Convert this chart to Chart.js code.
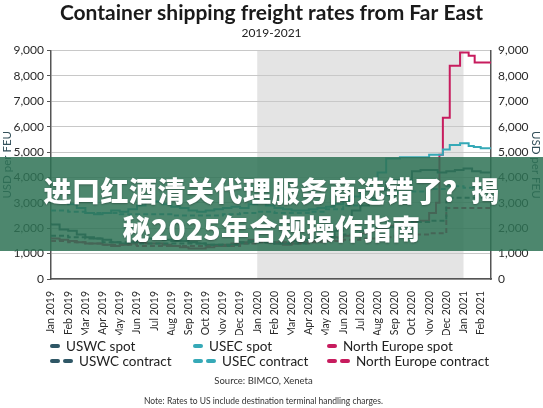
<!DOCTYPE html>
<html>
<head>
<meta charset="utf-8">
<script src="https://cdn.jsdelivr.net/npm/chart.js@4.4.1/dist/chart.umd.min.js"></script>
<style>
  html, body { margin: 0; padding: 0; background: #fff; }
  #wrap { position: relative; width: 543px; height: 408px; overflow: hidden; font-family: Lato, sans-serif; }
  #chart { position: absolute; left: 0; top: 0; }
  .legend { position: absolute; font-size: 13.5px; color: #222; white-space: nowrap; }
  .legend .item { position: absolute; display: flex; align-items: center; }
  .legend .sw { display: inline-block; width: 10px; height: 4px; border-radius: 2px; margin-right: 3px; }
  .src { position: absolute; left: 0; width: 527px; text-align: center; color: #333; }
  #banner { position: absolute; left: 0; top: 157px; width: 543px; height: 94px;
    background: rgba(46,114,85,0.85); color: #fff; text-align: center;
    font-family: "Noto Sans CJK SC", sans-serif; font-weight: 900; font-size: 28px;
    line-height: 38px; padding-top: 14px; box-sizing: border-box; letter-spacing: 0.5px;
    text-shadow: 0 1px 2px rgba(0,0,0,0.3); }
</style>
</head>
<body>
<div id="wrap">
  <canvas id="chart" width="543" height="408"></canvas>
  <div id="legend" class="legend"></div>
  <div class="src" style="top:375px;font-size:9.5px;">Source: BIMCO, Xeneta</div>
  <div class="src" style="top:396px;font-size:8.5px;">Note: Rates to US include destination terminal handling charges.</div>
  <div id="banner">进口红酒清关代理服务商选错了？揭<br>秘2025年合规操作指南</div>
</div>
<script>
// Month tick labels (x = months since Jan 2019)
const monthLabels = ['Jan 2019', 'Feb 2019', 'Mar 2019', 'Apr 2019', 'May 2019', 'Jun 2019',
    'Jul 2019', 'Aug 2019', 'Sep 2019', 'Oct 2019', 'Nov 2019', 'Dec 2019',
    'Jan 2020', 'Feb 2020', 'Mar 2020', 'Apr 2020', 'May 2020', 'Jun 2020',
    'Jul 2020', 'Aug 2020', 'Sep 2020', 'Oct 2020', 'Nov 2020', 'Dec 2020',
    'Jan 2021', 'Feb 2021'];
const yTicks = [0, 1000, 2000, 3000, 4000, 5000, 6000, 7000, 8000, 9000];
const shadedPeriod = [12, 24]; // 2020

// [month, USD per FEU]
const uswcSpot = [[0,2200],[0.5,2150],[1,1950],[1.5,1900],[2,1750],[2.5,1650],[3,1600],[3.5,1550],
    [4,1450],[4.5,1400],[5,1450],[5.5,1550],[6,1600],[6.5,1600],[7,1550],[7.5,1500],[8,1500],[8.5,1450],
    [9,1400],[9.5,1350],[10,1350],[10.5,1300],[11,1350],[11.5,1400],[12,1500],[12.5,1550],[13,1450],
    [13.5,1400],[14,1400],[14.5,1500],[15,1550],[15.5,1600],[16,1700],[16.5,1650],[17,1900],[17.5,2100],
    [18,2700],[18.5,2900],[19,3200],[19.5,3500],[20,3800],[20.5,3900],[21,3900],[21.5,4250],[22,4300],
    [22.5,4300],[23,4200],[23.5,4250],[24,4300],[24.5,4350],[25,4250],[25.6,4200]];
const uswcContract = [[0,1700],[1,1700],[2,1650],[3,1600],[4,1450],[5,1450],[6,1400],[7,1400],[8,1400],
    [9,1400],[10,1350],[11,1350],[12,1450],[13,1450],[14,1400],[15,1400],[16,1550],[17,1600],[18,1750],
    [19,1900],[20,2050],[21,2150],[22,2250],[23,2300],[24,3200],[25,3200],[25.6,3200]];
const usecSpot = [[0,3100],[0.5,3050],[1,3000],[1.5,2950],[2,2800],[2.5,2600],[3,2550],[3.5,2600],
    [4,2700],[4.5,2650],[5,2750],[5.5,2900],[6,3050],[6.5,3050],[7,2950],[7.5,2850],[8,2800],[8.5,2700],
    [9,2650],[9.5,2700],[10,2750],[10.5,2800],[11,2850],[11.5,2800],[12,2950],[12.5,3000],[13,2900],
    [13.5,2800],[14,2750],[14.5,2700],[15,2700],[15.5,2750],[16,2800],[16.5,2850],[17,2950],[17.5,3100],
    [18,3250],[18.5,3500],[19,3800],[19.5,4200],[20.3,4750],[21,4800],[22,4800],[22.8,4900],[23.2,5100],
    [23.8,5280],[24.3,5350],[24.6,5240],[25,5200],[25.6,5150]];
const usecContract = [[0,2700],[1,2700],[2,2650],[3,2600],[4,2600],[5,2550],[6,2550],[7,2550],[8,2500],
    [9,2500],[10,2500],[11,2550],[12,2600],[13,2650],[14,2600],[15,2600],[16,2650],[17,2750],[18,2900],
    [19,3100],[20,3300],[21,3400],[22,3450],[23,3550],[24,3650],[25,3600],[25.6,3600]];
const northEuropeSpot = [[0,1650],[0.5,1600],[1,1550],[1.5,1500],[2,1450],[2.5,1400],[3,1400],[3.5,1350],
    [4,1300],[4.5,1350],[5,1400],[5.5,1450],[6,1400],[6.5,1400],[7,1350],[7.5,1300],[8,1250],[8.5,1200],
    [9,1200],[9.5,1250],[10,1300],[10.5,1350],[11,1400],[11.5,1450],[12,1550],[12.5,1500],[13,1450],
    [13.5,1400],[14,1350],[14.5,1400],[15,1450],[15.5,1500],[16,1550],[16.5,1600],[17,1650],[17.5,1700],
    [18,1750],[18.5,1800],[19,1900],[19.5,2000],[20,2100],[20.5,2150],[21,2200],[21.5,2250],[22,2300],
    [22.4,2600],[22.6,3000],[22.8,4900],[23.2,6350],[23.8,8400],[24.3,8930],[24.65,8800],[24.95,8530],[25.6,8530]];
const northEuropeContract = [[0,1500],[1,1500],[2,1450],[3,1400],[4,1350],[5,1350],[6,1300],[7,1300],
    [8,1300],[9,1300],[10,1300],[11,1300],[12,1400],[13,1450],[14,1450],[15,1400],[16,1450],[17,1500],
    [18,1550],[19,1600],[20,1650],[21,1700],[22,1750],[23,1800],[24,2800],[25,2800],[25.6,2800]];

const seriesLabels = ['USWC spot', 'USWC contract', 'USEC spot', 'USEC contract', 'North Europe spot', 'North Europe contract'];

const uswcColor = '#2f5766';
const usecColor = '#36a9b7';
const neColor = '#c71c5e';
const axisColor = '#555';
const textColor = '#2a2a2a';

function series(label, data, color, dashed) {
    return {
        label: label,
        data: data,
        borderColor: color,
        backgroundColor: color,
        borderWidth: 2,
        borderDash: dashed ? [5, 3] : [],
        stepped: 'after',
        pointRadius: 0,
        fill: false
    };
}

// Grey band behind 2020
const shadePlugin = {
    id: 'shade',
    beforeDraw(chart) {
        const { ctx, chartArea, scales } = chart;
        const x0 = scales.x.getPixelForValue(shadedPeriod[0]);
        const x1 = scales.x.getPixelForValue(shadedPeriod[1]);
        ctx.save();
        ctx.fillStyle = '#e4e4e4';
        ctx.fillRect(x0, chartArea.top, x1 - x0, chartArea.bottom - chartArea.top);
        ctx.restore();
    }
};

const yAxis = (position, width) => ({
    position: position,
    min: 0,
    max: 9000,
    afterFit: scale => { scale.width = width; },
    afterBuildTicks: scale => { scale.ticks = yTicks.map(v => ({ value: v })); },
    border: { display: true, color: axisColor, width: 1.5 },
    grid: {
        display: position === 'left',
        color: '#c8c8c8',
        borderDash: [1, 2],
        drawTicks: true,
        tickLength: 4,
        tickColor: axisColor,
        tickBorderDash: []
    },
    ticks: {
        color: textColor,
        padding: 3,
        font: { family: 'Lato', size: 12 },
        callback: v => v.toLocaleString('en-US')
    },
    title: {
        display: true,
        text: 'USD per FEU',
        color: '#33505a',
        padding: 0,
        font: { family: 'Lato', size: 11.5 }
    }
});

const ctx = document.getElementById('chart').getContext('2d');
new Chart(ctx, {
    type: 'line',
    data: {
        datasets: [
            series(seriesLabels[1], uswcContract, uswcColor, true),
            series(seriesLabels[3], usecContract, usecColor, true),
            series(seriesLabels[5], northEuropeContract, neColor, true),
            series(seriesLabels[0], uswcSpot, uswcColor, false),
            series(seriesLabels[2], usecSpot, usecColor, false),
            series(seriesLabels[4], northEuropeSpot, neColor, false)
        ]
    },
    options: {
        responsive: false,
        animation: false,
        layout: { padding: { left: 0, right: 0, top: 0, bottom: 73 } },
        scales: {
            x: {
                type: 'linear',
                min: 0,
                max: 25.6,
                afterFit: scale => { scale.height = 56; },
                afterBuildTicks: scale => { scale.ticks = monthLabels.map((m, i) => ({ value: i })); },
                border: { display: true, color: axisColor, width: 1.5 },
                grid: { display: false },
                ticks: {
                    color: textColor,
                    autoSkip: false,
                    minRotation: 90,
                    maxRotation: 90,
                    padding: 4,
                    font: { family: 'Lato', size: 10.5 },
                    callback: v => monthLabels[v]
                }
            },
            y: yAxis('left', 51),
            y1: yAxis('right', 52)
        },
        plugins: {
            legend: { display: false },
            tooltip: { enabled: false },
            title: {
                display: true,
                text: 'Container shipping freight rates from Far East',
                color: '#1a1a1a',
                padding: { top: 1, bottom: 0 },
                font: { family: 'Lato', size: 21, weight: 'bold' }
            },
            subtitle: {
                display: true,
                text: '2019-2021',
                color: '#222',
                padding: { top: 0, bottom: 10 },
                font: { family: 'Lato', size: 12 }
            }
        }
    },
    plugins: [shadePlugin]
});

// Legend in three columns, spot above contract
const legendCols = [
    { x: 50, color: uswcColor, spot: seriesLabels[0], contract: seriesLabels[1] },
    { x: 193, color: usecColor, spot: seriesLabels[2], contract: seriesLabels[3] },
    { x: 327, color: neColor, spot: seriesLabels[4], contract: seriesLabels[5] }
];
const legend = document.getElementById('legend');
legendCols.forEach(col => {
    [[col.spot, 1, 338], [col.contract, 2, 353]].forEach(([text, n, top]) => {
        const item = document.createElement('div');
        item.className = 'item';
        item.style.left = col.x + 'px';
        item.style.top = top + 'px';
        let sw = '';
        for (let i = 0; i < n; i++) sw += '<span class="sw" style="background:' + col.color + '"></span>';
        item.innerHTML = sw + '<span style="margin-left:3px">' + text + '</span>';
        legend.appendChild(item);
    });
});
</script>
</body>
</html>
